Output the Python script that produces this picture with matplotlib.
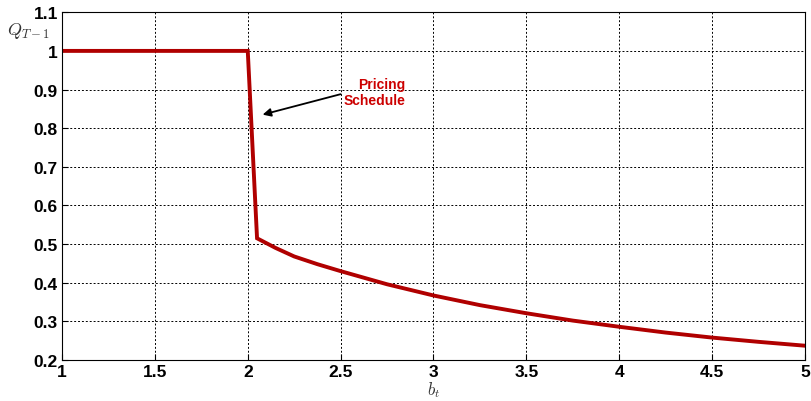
import matplotlib
matplotlib.use('Agg')
import matplotlib.pyplot as plt

# pricing schedule Q_{T-1} against b_t
b_t = [1.0, 2.0, 2.05, 2.15, 2.25, 2.375, 2.5, 2.75, 3.0, 3.25, 3.5, 3.75, 4.0, 4.25, 4.5, 4.75, 5.0]
q = [1.0, 1.0, 0.515, 0.49, 0.468, 0.448, 0.43, 0.396, 0.367, 0.342, 0.321, 0.302, 0.286, 0.271, 0.258, 0.247, 0.237]

x_ticks = [1, 1.5, 2, 2.5, 3, 3.5, 4, 4.5, 5]
x_labels = ['1', '1.5', '2', '2.5', '3', '3.5', '4', '4.5', '5']
y_ticks = [0.2, 0.3, 0.4, 0.5, 0.6, 0.7, 0.8, 0.9, 1.0, 1.1]
y_labels = ['0.2', '0.3', '0.4', '0.5', '0.6', '0.7', '0.8', '0.9', '1', '1.1']

plt.rcParams['font.family'] = ['Liberation Sans', 'DejaVu Sans']
plt.rcParams['mathtext.fontset'] = 'cm'

fig = plt.figure(figsize=(8.11, 4.02), dpi=100)
ax = fig.add_axes([0.0765, 0.102, 0.916, 0.865])

ax.plot(b_t, q, color='#b00000', linewidth=2.8, solid_joinstyle='miter')

ax.set_xlim(1, 5)
ax.set_ylim(0.2, 1.1)
ax.set_xticks(x_ticks)
ax.set_xticklabels(x_labels, fontsize=12.5, fontweight='bold')
ax.set_yticks(y_ticks)
ax.set_yticklabels(y_labels, fontsize=12.5, fontweight='bold')
ax.tick_params(direction='in', length=4, pad=3)
ax.grid(True, color='black', linestyle=(0, (2, 2)), linewidth=0.7)
for s in ax.spines.values():
    s.set_linewidth(0.8)

ax.set_xlabel('$b_t$', fontsize=12, labelpad=0, color='#333333')
fig.text(0.009, 0.912, '$Q_{T-1}$', fontsize=13, color='#333333')

ax.annotate('', xy=(2.08, 0.835), xytext=(2.5, 0.888),
            arrowprops=dict(arrowstyle='-|>', color='black', lw=1.3,
                            shrinkA=0, shrinkB=0, mutation_scale=12))
ax.text(2.68, 0.893, 'Pricing\nSchedule', fontsize=10, fontweight='bold',
        color='#cc0000', ha='center', va='center', multialignment='right',
        linespacing=1.2)

fig.savefig('out.png', dpi=100)
